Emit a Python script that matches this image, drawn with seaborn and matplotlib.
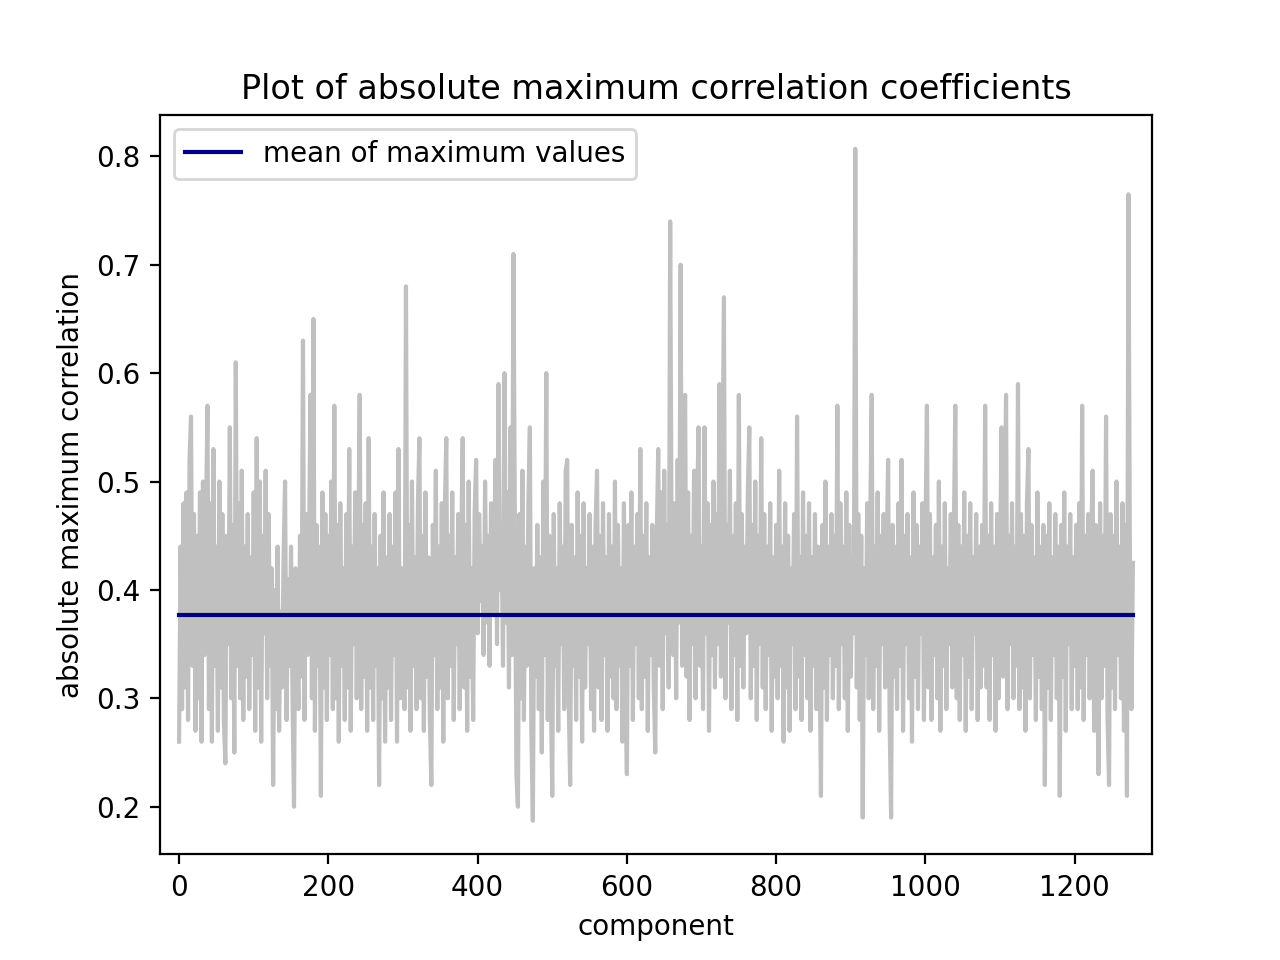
import numpy as np
import pandas as pd
import seaborn as sns
import matplotlib
matplotlib.use("Agg")
import matplotlib.pyplot as plt

# absolute maximum correlation per component (every 2nd component)
max_corr = [
    0.26, 0.44, 0.29, 0.48, 0.31, 0.49, 0.28, 0.52, 0.56, 0.33, 0.47, 0.27, 0.45, 0.30, 0.49, 0.26, 0.50, 0.34, 0.46, 0.57,
    0.29, 0.48, 0.26, 0.53, 0.33, 0.44, 0.27, 0.50, 0.31, 0.47, 0.28, 0.24, 0.45, 0.35, 0.55, 0.30, 0.46, 0.25, 0.61, 0.33,
    0.48, 0.30, 0.51, 0.28, 0.44, 0.32, 0.47, 0.29, 0.43, 0.34, 0.49, 0.27, 0.54, 0.31, 0.50, 0.26, 0.45, 0.36, 0.51, 0.30,
    0.47, 0.33, 0.42, 0.22, 0.40, 0.29, 0.44, 0.27, 0.38, 0.31, 0.43, 0.50, 0.28, 0.41, 0.33, 0.44, 0.30, 0.20, 0.42, 0.35,
    0.29, 0.45, 0.32, 0.63, 0.28, 0.47, 0.34, 0.43, 0.58, 0.30, 0.65, 0.27, 0.46, 0.33, 0.44, 0.21, 0.49, 0.31, 0.47, 0.28,
    0.45, 0.34, 0.50, 0.29, 0.57, 0.30, 0.46, 0.26, 0.48, 0.33, 0.42, 0.28, 0.47, 0.31, 0.53, 0.27, 0.44, 0.35, 0.49, 0.30,
    0.43, 0.58, 0.29, 0.46, 0.32, 0.48, 0.27, 0.54, 0.31, 0.44, 0.28, 0.47, 0.33, 0.42, 0.22, 0.45, 0.30, 0.49, 0.26, 0.43,
    0.31, 0.47, 0.28, 0.44, 0.34, 0.49, 0.26, 0.53, 0.30, 0.42, 0.36, 0.29, 0.68, 0.31, 0.46, 0.27, 0.50, 0.33, 0.43, 0.29,
    0.48, 0.54, 0.30, 0.45, 0.27, 0.49, 0.32, 0.43, 0.28, 0.22, 0.46, 0.34, 0.51, 0.29, 0.44, 0.31, 0.48, 0.26, 0.47, 0.54,
    0.30, 0.45, 0.33, 0.49, 0.28, 0.43, 0.35, 0.47, 0.29, 0.44, 0.54, 0.31, 0.46, 0.27, 0.50, 0.32, 0.42, 0.28, 0.47, 0.52,
    0.36, 0.47, 0.39, 0.44, 0.34, 0.50, 0.37, 0.45, 0.33, 0.48, 0.38, 0.43, 0.52, 0.35, 0.59, 0.40, 0.46, 0.33, 0.60, 0.37,
    0.49, 0.31, 0.55, 0.34, 0.71, 0.45, 0.23, 0.20, 0.47, 0.30, 0.51, 0.28, 0.44, 0.33, 0.48, 0.55, 0.27, 0.187, 0.42, 0.32,
    0.46, 0.29, 0.43, 0.25, 0.50, 0.34, 0.60, 0.28, 0.45, 0.31, 0.21, 0.47, 0.33, 0.42, 0.27, 0.48, 0.35, 0.44, 0.29, 0.51,
    0.52, 0.30, 0.22, 0.46, 0.33, 0.43, 0.28, 0.49, 0.32, 0.45, 0.26, 0.48, 0.31, 0.42, 0.35, 0.47, 0.29, 0.44, 0.27, 0.46,
    0.51, 0.31, 0.45, 0.28, 0.48, 0.34, 0.43, 0.27, 0.47, 0.32, 0.44, 0.30, 0.50, 0.29, 0.46, 0.33, 0.42, 0.26, 0.48, 0.31,
    0.23, 0.46, 0.33, 0.49, 0.28, 0.44, 0.35, 0.47, 0.30, 0.53, 0.29, 0.45, 0.32, 0.48, 0.27, 0.43, 0.34, 0.46, 0.31, 0.25,
    0.45, 0.53, 0.33, 0.49, 0.29, 0.51, 0.36, 0.46, 0.31, 0.74, 0.42, 0.34, 0.48, 0.30, 0.52, 0.37, 0.70, 0.33, 0.47, 0.58,
    0.32, 0.49, 0.28, 0.45, 0.35, 0.51, 0.30, 0.47, 0.55, 0.33, 0.44, 0.29, 0.55, 0.36, 0.48, 0.27, 0.46, 0.34, 0.50, 0.31,
    0.47, 0.35, 0.59, 0.32, 0.49, 0.67, 0.30, 0.46, 0.37, 0.51, 0.29, 0.45, 0.34, 0.48, 0.28, 0.58, 0.33, 0.47, 0.31, 0.44,
    0.36, 0.49, 0.55, 0.30, 0.46, 0.33, 0.50, 0.28, 0.45, 0.35, 0.54, 0.31, 0.47, 0.29, 0.44, 0.34, 0.48, 0.27, 0.43, 0.32,
    0.46, 0.30, 0.51, 0.33, 0.44, 0.26, 0.48, 0.31, 0.45, 0.27, 0.42, 0.35, 0.47, 0.29, 0.56, 0.32, 0.43, 0.28, 0.49, 0.34,
    0.45, 0.30, 0.48, 0.27, 0.43, 0.33, 0.47, 0.29, 0.44, 0.36, 0.21, 0.46, 0.31, 0.50, 0.28, 0.44, 0.34, 0.47, 0.30, 0.45,
    0.33, 0.57, 0.29, 0.48, 0.35, 0.44, 0.30, 0.49, 0.27, 0.46, 0.32, 0.43, 0.36, 0.807, 0.31, 0.47, 0.28, 0.45, 0.19, 0.42,
    0.34, 0.48, 0.30, 0.46, 0.58, 0.29, 0.44, 0.33, 0.49, 0.27, 0.45, 0.35, 0.47, 0.31, 0.43, 0.52, 0.28, 0.19, 0.46, 0.32,
    0.44, 0.29, 0.48, 0.33, 0.52, 0.27, 0.45, 0.35, 0.47, 0.30, 0.43, 0.26, 0.49, 0.32, 0.46, 0.29, 0.44, 0.36, 0.48, 0.28,
    0.45, 0.57, 0.31, 0.47, 0.28, 0.43, 0.34, 0.46, 0.30, 0.50, 0.27, 0.44, 0.33, 0.48, 0.29, 0.42, 0.35, 0.47, 0.31, 0.45,
    0.57, 0.30, 0.46, 0.28, 0.44, 0.34, 0.49, 0.27, 0.45, 0.32, 0.48, 0.29, 0.43, 0.36, 0.47, 0.28, 0.44, 0.31, 0.46, 0.33,
    0.57, 0.31, 0.45, 0.28, 0.48, 0.34, 0.44, 0.27, 0.47, 0.30, 0.43, 0.55, 0.32, 0.46, 0.58, 0.29, 0.45, 0.35, 0.48, 0.30,
    0.44, 0.33, 0.59, 0.29, 0.47, 0.31, 0.45, 0.27, 0.48, 0.53, 0.30, 0.46, 0.34, 0.43, 0.28, 0.49, 0.32, 0.44, 0.29, 0.46,
    0.22, 0.45, 0.31, 0.48, 0.28, 0.43, 0.34, 0.47, 0.30, 0.44, 0.21, 0.46, 0.32, 0.49, 0.27, 0.44, 0.35, 0.47, 0.29, 0.43,
    0.33, 0.46, 0.29, 0.48, 0.31, 0.57, 0.28, 0.45, 0.34, 0.47, 0.30, 0.44, 0.51, 0.27, 0.46, 0.32, 0.23, 0.48, 0.30, 0.45,
    0.33, 0.56, 0.28, 0.22, 0.47, 0.31, 0.45, 0.29, 0.50, 0.34, 0.44, 0.30, 0.48, 0.27, 0.46, 0.21, 0.765, 0.42, 0.29, 0.425,
]
component = np.arange(0, 2 * len(max_corr), 2)
mean_value = 0.377

df = pd.DataFrame({"component": component, "corr": max_corr})

fig, ax = plt.subplots(figsize=(6.4, 4.8), dpi=200)

# grey line of all maxima
sns.lineplot(data=df, x="component", y="corr", color="silver", ax=ax)

# mean line over the same range
sns.lineplot(x=component, y=[mean_value] * len(component), color="navy",
             label="mean of maximum values", ax=ax)

ax.margins(x=0.02)
ax.set_title("Plot of absolute maximum correlation coefficients")
ax.set_xlabel("component")
ax.set_ylabel("absolute maximum correlation")
ax.legend(loc="upper left")

fig.savefig("out.png", dpi=200)
